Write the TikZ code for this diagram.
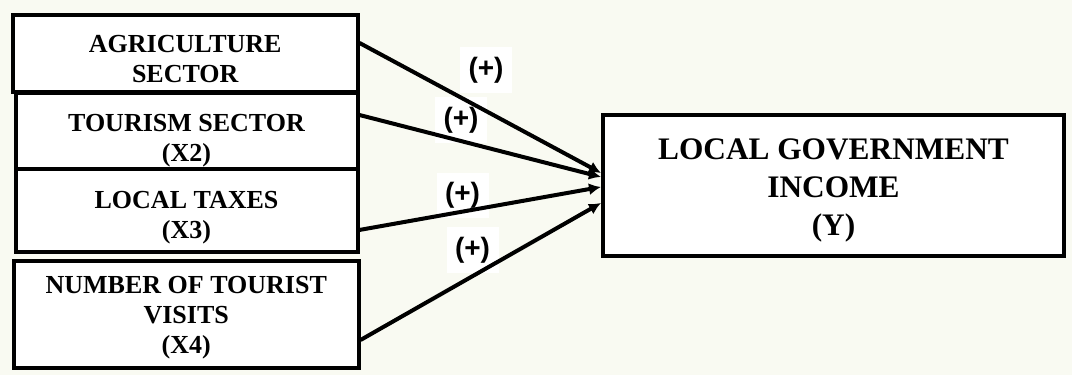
\documentclass[tikz,border=0pt]{standalone}
\usepackage{fontspec}
\setmainfont{Liberation Serif}
\newfontfamily\plusfont{Liberation Sans}
\usetikzlibrary{arrows.meta}
\definecolor{paper}{RGB}{249,250,242}

\begin{document}
\begin{tikzpicture}[x=0.75pt,y=-0.75pt,
  box/.style={draw, line width=3pt, fill=white, inner sep=0pt},
  txt/.style={inner sep=0pt, align=center, font=\bfseries\fontsize{19.5}{22.5}\selectfont},
  bigtxt/.style={inner sep=0pt, align=center, font=\bfseries\fontsize{23.5}{28.5}\selectfont},
  plus/.style={fill=white, inner sep=0pt, minimum width=39pt, minimum height=34pt,
    font=\plusfont\bfseries\fontsize{21}{22}\selectfont},
  link/.style={line width=3pt, -{Latex[length=9pt,width=9pt]}}]
  \fill[paper] (0,0) rectangle (1072,375);
  \useasboundingbox (0,0) rectangle (1072,375);

  \node [box, minimum width=258.4pt, minimum height=58.1pt] (agri) at (185.25,53.75) {};
  \node [box, minimum width=256.5pt, minimum height=57.75pt] (tour) at (186.5,131) {};
  \node [box, minimum width=256.5pt, minimum height=61.9pt] (tax) at (186.5,210.75) {};
  \node [box, minimum width=258.4pt, minimum height=80.25pt] (visit) at (186.25,314) {};
  \node [box, minimum width=345.75pt, minimum height=105.4pt] (inc) at (833.5,185.5) {};

  \node [txt] (agritxt) at ([yshift=-4pt]agri.center) {AGRICULTURE\\SECTOR};
  \node [txt] (tourtxt) at ([yshift=-7pt]tour.center) {TOURISM SECTOR\\(X2)};
  \node [txt] (taxtxt) at ([yshift=-5pt]tax.center) {LOCAL TAXES\\(X3)};
  \node [txt] (visittxt) at ([yshift=-3pt]visit.center) {NUMBER OF TOURIST\\VISITS\\(X4)};
  \node [bigtxt] (inctxt) at ([yshift=-4pt]inc.center) {LOCAL GOVERNMENT\\INCOME\\(Y)};

  \node [plus] (p1) at (486,70) {(+)};
  \node [plus] (p2) at (461,120) {(+)};
  \node [plus] (p3) at (462.5,195.5) {(+)};
  \node [plus] (p4) at (472.5,250) {(+)};

  \draw [link] ([yshift=8.1pt]agri.east) -- ([yshift=9.4pt]inc.west);
  \draw [link] ([yshift=12pt]tour.east) -- ([yshift=6.4pt]inc.west);
  \draw [link] ([yshift=-14.4pt]tax.east) -- ([yshift=-1.1pt]inc.west);
  \draw [link] ([yshift=-19.5pt]visit.east) -- ([yshift=-13.1pt]inc.west);
\end{tikzpicture}
\end{document}
